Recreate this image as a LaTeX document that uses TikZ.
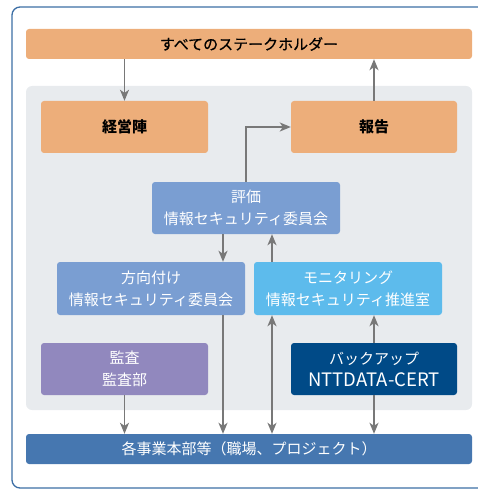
\documentclass[tikz,border=0pt]{standalone}
\usepackage{fontspec}
\setmainfont{Noto Sans CJK JP}
\newfontfamily\medfont[FakeBold=0.6]{Noto Sans CJK JP}
\usepackage{xcolor}
\usepackage{tikz}
\usetikzlibrary{arrows.meta,calc}
\definecolor{stakeOr}{RGB}{237,174,122}
\definecolor{panelGr}{RGB}{232,235,238}
\definecolor{evalBl}{RGB}{122,158,210}
\definecolor{monBl}{RGB}{93,187,236}
\definecolor{auditPu}{RGB}{145,136,190}
\definecolor{certBl}{RGB}{0,74,135}
\definecolor{unitBl}{RGB}{70,119,176}
\definecolor{frameBl}{RGB}{60,110,165}
\definecolor{arwGr}{RGB}{120,120,120}

\begin{document}
\begin{tikzpicture}[x=1pt,y=-1pt,
    every node/.style={font=\fontsize{15}{22}\selectfont},
    box/.style={rounded corners=3pt,align=center,inner sep=0pt,text=white},
    orbox/.style={box,fill=stakeOr,text=black},
    arw/.style={arwGr,line width=1.5pt,-{Stealth[length=11pt,width=9pt,inset=3pt]}}]

    \useasboundingbox (0,0) rectangle (477,489);

    % Outer frame (right side runs off the page)
    \draw[frameBl,line width=1.3pt,rounded corners=8pt]
      (480,7) -- (12,7) -- (12,488) -- (480,488);

    % Grey panel
    \fill[panelGr,rounded corners=6pt] (26,86) rectangle (472,410);

    % Stakeholders and business units
    \node[orbox,minimum width=446pt,minimum height=30pt] (stake) at (249,44)
      {\medfont すべてのステークホルダー};
    \node[box,fill=unitBl,minimum width=446pt,minimum height=30pt] (units) at (249,449)
      {各事業本部等（職場、プロジェクト）};

    % Management and report
    \node[orbox,minimum width=167pt,minimum height=52pt] (board) at (124.5,127)
      {\bfseries 経営陣};
    \node[orbox,minimum width=166pt,minimum height=52pt] (report) at (374,127)
      {\bfseries 報告};

    % Committees
    \node[box,fill=evalBl,minimum width=188pt,minimum height=52pt] (evalc) at (246,208)
      {評価\\情報セキュリティ委員会};
    \node[box,fill=evalBl,minimum width=188pt,minimum height=53pt] (direct) at (151,288.5)
      {方向付け\\情報セキュリティ委員会};
    \node[box,fill=monBl,minimum width=188pt,minimum height=53pt] (monitor) at (348,288.5)
      {モニタリング\\情報セキュリティ推進室};

    % Audit and backup
    \node[box,fill=auditPu,minimum width=167pt,minimum height=52pt] (audit) at (124.5,369)
      {監査\\監査部};
    \node[box,fill=certBl,minimum width=166pt,minimum height=52pt] (cert) at (374,369)
      {バックアップ\\{\fontsize{18.5}{22}\selectfont NTTDATA-CERT}};

    % Connector columns
    \coordinate (xl) at (223,0);
    \coordinate (xr) at (272,0);

    % Arrows
    \draw[arw] (board.north |- stake.south) -- (board.north);
    \draw[arw] (report.north) -- (report.north |- stake.south);
    \draw[arw] (evalc.north) |- (report.west);
    \draw[arw] (evalc.south -| xl) -- (direct.north -| xl);
    \draw[arw] (monitor.north -| xr) -- (evalc.south -| xr);
    \draw[arw] (direct.south -| xl) -- (units.north -| xl);
    \draw[arw,{Stealth[length=11pt,width=9pt,inset=3pt]}-{Stealth[length=11pt,width=9pt,inset=3pt]}]
      (monitor.south -| xr) -- (units.north -| xr);
    \draw[arw] (cert.north) -- (monitor.south -| cert.north);
    \draw[arw] (cert.south) -- (cert.south |- units.north);
    \draw[arw] (audit.south) -- (audit.south |- units.north);

\end{tikzpicture}
\end{document}
